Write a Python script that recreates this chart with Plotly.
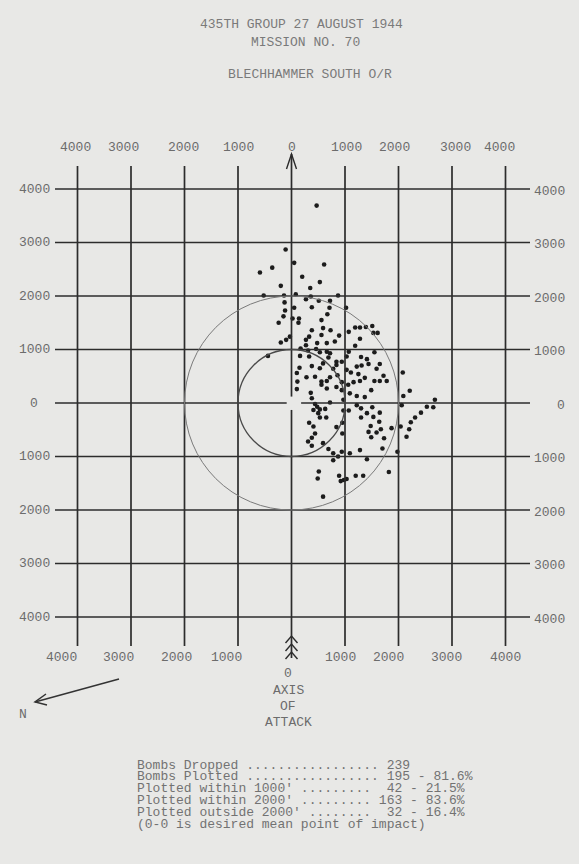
import plotly.graph_objects as go

# ---------------- data ----------------
tick_values = [-4000, -3000, -2000, -1000, 0, 1000, 2000, 3000, 4000]
tick_labels = ["4000", "3000", "2000", "1000", "0", "1000", "2000", "3000", "4000"]
circle_radii = [1000, 2000]

bomb_x = [470, -110, 50, 610, -360, -590, 200, 530, -200, 350, -520, -140, 80, 360, 870,
          270, 510, 720, -130, 50, 380, -120, 710, -150, 20, 140, 130, -240, 560, 670, 380, 590, 730,
          560, 330, 270, 480, 660, 810, -30, -100, -200, 170, 270, 310, 460, 530, 660, 720, 160, 330,
          690, -440, 840, 590, 150, 380, 530, 840, 100, 280, 440, 720, 780, 560, 660,
          1020, 1190, 1280, 1390, 1510, 1530, 1610, 1280, 1070, 890, 1190, 1070, 1550, 1300, 1410,
          1030, 940, 1440, 1650, 1220, 1310, 1030, 1110, 1250, 1370, 1590, 1720, 1780, 1550, 1650,
          1280, 1160, 940, 860, 2080,
          940, 1090, 1220, 1370, 1490, 1060, 2090, 2210, 2680, 2650, 2530, 2420, 2310, 2230, 2200,
          2150, 2040, 1870, 2060, 1220, 1300, 1510, 1410, 1300, 1530, 1650, 1640, 1480, 1670, 1440,
          1590, 1490, 1730, 1700, 1280, 1090, 940, 1980, 970, 1070, 950, 970, 870, 1410, 950,
          110, 100, 560, 660, 840, 360, 380, 720, 440, 480, 530, 410, 630, 500, 530, 650, 330, 410,
          840, 440, 380, 310, 380, 590, 690, 780, 780,
          510, 490, 890, 920, 980, 1030, 1200, 1340, 1820, 590]
bomb_y = [3690, 2870, 2620, 2590, 2530, 2440, 2360, 2260, 2190, 2150, 2010, 2010, 2030, 1990, 2010,
          1940, 1910, 1910, 1880, 1780, 1790, 1730, 1780, 1620, 1580, 1580, 1500, 1500, 1550, 1660,
          1360, 1400, 1360, 1270, 1240, 1180, 1120, 1120, 1150, 1240, 1180, 1130, 1020, 1080, 980,
          1010, 950, 960, 930, 880, 870, 850, 880, 770, 740, 660, 690, 650, 710, 560, 480, 490, 480,
          640, 400, 410,
          1780, 1410, 1410, 1420, 1440, 1310, 1310, 1200, 1330, 1260, 1070, 960, 950, 860, 820, 870,
          770, 730, 730, 680, 700, 620, 570, 540, 470, 640, 510, 410, 410, 410, 410, 390, 390, 520, 570,
          240, 180, 130, 110, 240, 340, 130, 230, 60, -80, -70, -180, -270, -360, -490, -630, -440,
          -470, -40, -40, -100, -80, -190, -270, -260, -180, -350, -430, -490, -540, -550, -640, -660,
          -850, -880, -940, -910, -910, -140, -140, -570, 60, -1000, -1050, -370,
          400, 260, 340, 270, 300, 190, 90, 10, -20, -70, -120, -130, -110, -190, -270, -270, -370,
          -440, -450, -570, -650, -720, -800, -750, -860, -940, -1070,
          -1280, -1410, -1360, -1460, -1440, -1420, -1360, -1360, -1290, -1750]

title_lines = ["435TH GROUP 27 AUGUST 1944", "MISSION NO. 70", "BLECHHAMMER SOUTH O/R"]
stats_lines = [
    "Bombs Dropped ................. 239",
    "Bombs Plotted ................. 195 - 81.6%",
    "Plotted within 1000' .........  42 - 21.5%",
    "Plotted within 2000' ......... 163 - 83.6%",
    "Plotted outside 2000' ........  32 - 16.4%",
    "(0-0 is desired mean point of impact)",
]
axis_text = ["0", "AXIS", "OF", "ATTACK"]
north_label = "N"

# ---------------- layout geometry (page pixels -> feet) ----------------
W, H = 579, 864
FT_PER_PX = 1000 / 53.5
X0_PX, Y0_PX = 291.5, 403.0


def fx(px):
    return (px - X0_PX) * FT_PER_PX


def fy(py):
    return (Y0_PX - py) * FT_PER_PX


BG = "#e8e8e6"
GRID = "#2c2c2c"
TEXT = "#6c6c6c"
MONO = "Liberation Mono, Courier New, monospace"

H_LEFT, H_RIGHT = fx(55), fx(530)      # horizontal grid extent
V_TOP, V_BOT = fy(166), fy(646)        # vertical grid extent
GAP_X = (-90, 180)                     # break of the 0-line around the aim point
GAP_Y = (-130, 120)

shapes = []
line_style = dict(color=GRID, width=1.7)
for t in tick_values:
    if t != 0:
        shapes.append(dict(type="line", x0=H_LEFT, x1=H_RIGHT, y0=t, y1=t, line=line_style))
        shapes.append(dict(type="line", x0=t, x1=t, y0=V_BOT, y1=V_TOP, line=line_style))
# horizontal zero line with gap
shapes.append(dict(type="line", x0=H_LEFT, x1=GAP_X[0], y0=0, y1=0, line=line_style))
shapes.append(dict(type="line", x0=GAP_X[1], x1=H_RIGHT, y0=0, y1=0, line=line_style))
# vertical zero line (axis of attack) with gap
tip_y = fy(154)
tail_y = fy(658)
shapes.append(dict(type="line", x0=0, x1=0, y0=GAP_Y[1], y1=tip_y, line=line_style))
shapes.append(dict(type="line", x0=0, x1=0, y0=tail_y, y1=GAP_Y[0], line=line_style))
# arrow head at top
aw, ah = 5 * FT_PER_PX, 15 * FT_PER_PX
shapes.append(dict(type="path", path=f"M {-aw},{tip_y - ah} L 0,{tip_y} L {aw},{tip_y - ah}",
                   line=dict(color=GRID, width=1.4)))
# fletching chevrons at bottom
cw, ch = 6 * FT_PER_PX, 7 * FT_PER_PX
for apex_px in (636, 644, 652):
    ay_ = fy(apex_px)
    shapes.append(dict(type="path", path=f"M {-cw},{ay_ - ch} L 0,{ay_} L {cw},{ay_ - ch}",
                       line=dict(color=GRID, width=1.4)))

# circles
circle_styles = {1000: dict(color="#4a4a4a", width=1.3), 2000: dict(color="#7a7a7a", width=1.0)}
for r in circle_radii:
    shapes.append(dict(type="circle", x0=-r, x1=r, y0=-r, y1=r, line=circle_styles[r]))

# north arrow
nx_tip, ny_tip = fx(35), fy(702)
nx_tail, ny_tail = fx(119), fy(679)
shapes.append(dict(type="line", x0=nx_tail, y0=ny_tail, x1=nx_tip, y1=ny_tip,
                   line=dict(color="#333333", width=1.5)))
shapes.append(dict(type="path",
                   path=f"M {fx(46)},{fy(694)} L {nx_tip},{ny_tip} L {fx(47)},{fy(705)}",
                   line=dict(color="#333333", width=1.5)))

annotations = []


def txt(x, y, s, size=13, color=TEXT, xanchor="center", xref="x", yref="y"):
    annotations.append(dict(x=x, y=y, xref=xref, yref=yref, text=s.replace(" ", "\u00a0"),
                            showarrow=False, xanchor=xanchor, yanchor="middle",
                            font=dict(family=MONO, size=size, color=color)))


# tick labels (typed slightly off the lines)
top_shift = [-34, -136, -19, 0, 0, 37, -84, 56, -103]
bot_shift = [-308, -243, -150, -224, None, -93, -178, -112, 9]
for t, lab, s in zip(tick_values, tick_labels, top_shift):
    txt(t + s, fy(147), lab)
for t, lab, s in zip(tick_values, tick_labels, bot_shift):
    if s is not None:
        txt(t + s, fy(657), lab)
for t, lab in zip(tick_values, tick_labels):
    txt(fx(34), t, lab)
    txt(fx(567), t - 2 * FT_PER_PX, lab, xanchor="right")

# axis of attack label
for s, py in zip(axis_text, (673, 690, 706, 722)):
    txt(fx(288), fy(py), s)
txt(fx(23), fy(714), north_label)

# title
for s, (cx, py) in zip(title_lines, ((301, 24), (305, 42), (310, 74))):
    txt(cx / W, 1 - py / H, s, xref="paper", yref="paper", color="#7a7a7a")

# stats
for s, py in zip(stats_lines, (765, 776.8, 788.6, 800.4, 812.2, 824)):
    txt(135 / W, 1 - py / H, s, xref="paper", yref="paper", xanchor="left", color="#727272")

fig = go.Figure()
fig.add_trace(go.Scatter(x=bomb_x, y=bomb_y, mode="markers",
                         marker=dict(size=4.6, color="#1c1c1c", line=dict(width=0)),
                         hoverinfo="skip"))
fig.update_layout(
    width=W, height=H, margin=dict(l=0, r=0, t=0, b=0),
    paper_bgcolor=BG, plot_bgcolor=BG, showlegend=False,
    xaxis=dict(range=[fx(0), fx(W)], visible=False, fixedrange=True),
    yaxis=dict(range=[fy(H), fy(0)], visible=False, fixedrange=True),
    shapes=shapes, annotations=annotations,
)
fig.write_html("out.html", config={"displayModeBar": False},
               post_script="document.body.style.margin='0';")
